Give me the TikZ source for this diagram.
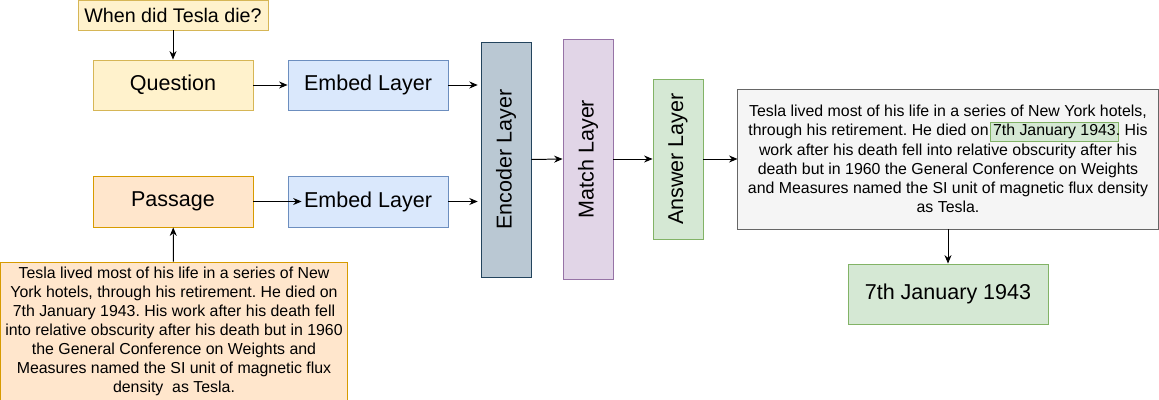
\documentclass[tikz,border=0pt]{standalone}
\usepackage{fontspec}
\setmainfont{Liberation Sans}
\usetikzlibrary{arrows.meta}
\definecolor{yelfill}{HTML}{FFF2CC}
\definecolor{yelline}{HTML}{D6B656}
\definecolor{orgfill}{HTML}{FFE6CC}
\definecolor{orgline}{HTML}{D79B00}
\definecolor{blufill}{HTML}{DAE8FC}
\definecolor{bluline}{HTML}{6C8EBF}
\definecolor{encfill}{HTML}{BAC8D3}
\definecolor{encline}{HTML}{23445D}
\definecolor{purfill}{HTML}{E1D5E7}
\definecolor{purline}{HTML}{9673A6}
\definecolor{grnfill}{HTML}{D5E8D4}
\definecolor{grnline}{HTML}{82B366}
\definecolor{gryfill}{HTML}{F5F5F5}
\definecolor{gryline}{HTML}{666666}
\newcommand{\hlbox}[1]{\begingroup\setlength{\fboxsep}{1.3pt}\setlength{\fboxrule}{0.7pt}%
  \rlap{\hspace{-2pt}\fcolorbox{grnline}{grnfill}{\phantom{#1}}}#1\endgroup}
\frenchspacing

\begin{document}
\begin{tikzpicture}[x=0.025cm, y=-0.025cm, >={Stealth[length=6pt,width=5pt]},
  box/.style={draw, line width=0.65pt, align=center, font=\fontsize{15.3}{18}\selectfont},
  smalltext/.style={font=\fontsize{11.3}{13.6}\selectfont},
  flow/.style={->, line width=0.7pt}]
  \useasboundingbox (0,0) rectangle (1159,400);
  \coordinate (qtextc) at (173,15);
  \coordinate (questc) at (173,85);
  \coordinate (embqc) at (368,85);
  \coordinate (passc) at (173,201.5);
  \coordinate (embpc) at (368,201.5);
  \coordinate (ptextc) at (174,331.5);
  \coordinate (encc) at (506,159.5);
  \coordinate (matchc) at (588,159);
  \coordinate (ansc) at (678,159);
  \coordinate (ctextc) at (948,159);
  \coordinate (answerc) at (948,294);
  % input side
  \node[box, fill=yelfill, draw=yelline, minimum width=4.75cm, minimum height=0.75cm,
    font=\fontsize{14}{16}\selectfont] (qtext) at (qtextc) {When did Tesla die?};
  \node[box, fill=yelfill, draw=yelline, minimum width=4cm, minimum height=1.25cm] (quest) at (questc) {Question};
  \node[box, fill=blufill, draw=bluline, minimum width=4cm, minimum height=1.25cm] (embq) at (embqc) {Embed Layer};
  \node[box, fill=orgfill, draw=orgline, minimum width=4cm, minimum height=1.275cm] (pass) at (passc) {Passage};
  \node[box, fill=blufill, draw=bluline, minimum width=4cm, minimum height=1.275cm] (embp) at (embpc) {Embed Layer};
  \node[box, smalltext, fill=orgfill, draw=orgline, minimum width=8.65cm, minimum height=3.375cm] (ptext) at (ptextc)
    {Tesla lived most of his life in a series of New\\
     York hotels, through his retirement. He died on\\
     7th January 1943. His work after his death fell\\
     into relative obscurity after his death but in 1960\\
     the General Conference on Weights and\\
     Measures named the SI unit of magnetic flux\\
     density\ \ as Tesla.};
  % layers
  \node[box, rotate=90, fill=encfill, draw=encline, minimum width=5.875cm, minimum height=1.25cm] (enc) at (encc) {Encoder Layer};
  \node[box, rotate=90, fill=purfill, draw=purline, minimum width=6cm, minimum height=1.25cm] (match) at (matchc) {Match Layer};
  \node[box, rotate=90, fill=grnfill, draw=grnline, minimum width=4cm, minimum height=1.25cm] (ans) at (ansc) {Answer Layer};
  % output side
  \node[box, smalltext, fill=gryfill, draw=gryline, minimum width=10.5cm, minimum height=3.5cm] (ctext) at (ctextc)
    {Tesla lived most of his life in a series of New York hotels,\\
     through his retirement. He died on \hlbox{7th January 1943}. His\\
     work after his death fell into relative obscurity after his\\
     death but in 1960 the General Conference on Weights\\
     and Measures named the SI unit of magnetic flux density\\
     as Tesla.};
  \node[box, fill=grnfill, draw=grnline, minimum width=5cm, minimum height=1.5cm] (answer) at (answerc) {7th January 1943};
  % connectors
  \draw[flow] (qtext) -- (quest);
  \draw[flow] (quest) -- (embq);
  \draw[flow, shorten >=-10pt] (pass) -- (embp);
  \draw[flow] (ptext) -- (pass);
  \draw[flow, shorten >=2pt] (embq.east) -- (embq.east -| enc.north);
  \draw[flow, shorten >=2pt] (embp.east) -- (embp.east -| enc.north);
  \draw[flow] (enc.south) -- (match.north);
  \draw[flow] (match.south) -- (ans.north);
  \draw[flow] (ans.south) -- (ctext.west);
  \draw[flow] (ctext) -- (answer);
\end{tikzpicture}
\end{document}
